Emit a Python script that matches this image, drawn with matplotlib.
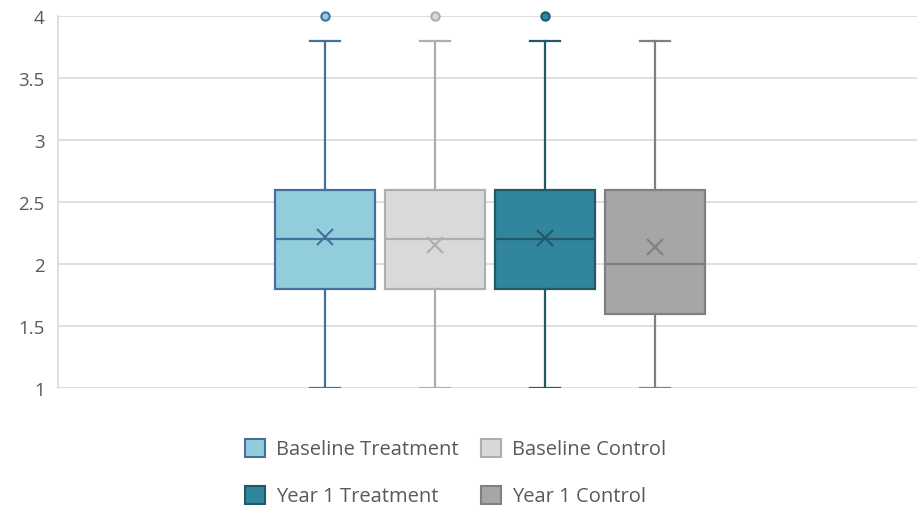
import matplotlib
matplotlib.use("Agg")
import matplotlib.pyplot as plt
from matplotlib.patches import Patch

categories = ["Baseline Treatment", "Baseline Control", "Year 1 Treatment", "Year 1 Control"]
whisker_low = [1.0, 1.0, 1.0, 1.0]
q1 = [1.8, 1.8, 1.8, 1.6]
median = [2.2, 2.2, 2.2, 2.0]
q3 = [2.6, 2.6, 2.6, 2.6]
whisker_high = [3.8, 3.8, 3.8, 3.8]
means = [2.22, 2.15, 2.21, 2.14]
outliers = [[4.0], [4.0], [4.0], []]

fill_colors = ["#92CDDC", "#D9D9D9", "#31859C", "#A6A6A6"]
edge_colors = ["#44709D", "#AEAEAE", "#215968", "#808080"]

plt.rcParams['font.family'] = ['Open Sans', 'DejaVu Sans']

fig = plt.figure(figsize=(9.17, 5.06), dpi=100)
ax = fig.add_axes([58/917, (506-389)/506, (917-58)/917, (389-17)/506])

positions = [1, 2, 3, 4]
for i in range(len(categories)):
    stats = [dict(med=median[i], q1=q1[i], q3=q3[i], whislo=whisker_low[i],
                  whishi=whisker_high[i], mean=means[i], fliers=outliers[i],
                  label=categories[i])]
    ec = edge_colors[i]
    art = ax.bxp(stats, positions=[positions[i]], widths=0.918, patch_artist=True,
                 showmeans=True, showfliers=True,
                 boxprops=dict(facecolor=fill_colors[i], edgecolor=ec, linewidth=1.6),
                 medianprops=dict(color=ec, linewidth=1.6),
                 whiskerprops=dict(color=ec, linewidth=1.6),
                 capprops=dict(color=ec, linewidth=1.6),
                 capwidths=0.27,
                 meanprops=dict(marker='x', markersize=12, markeredgecolor=ec,
                                markeredgewidth=1.5, markerfacecolor='none'),
                 flierprops=dict(marker='o', markersize=6, markerfacecolor=fill_colors[i],
                                 markeredgecolor=ec, markeredgewidth=1.5))
    for f in art['fliers']:
        f.set_clip_on(False)
        f.set_zorder(5)

ax.set_xlim(1 - (325-58)/110, 4 + (917-655)/110)
ax.set_ylim(1, 4)
ax.set_yticks([1, 1.5, 2, 2.5, 3, 3.5, 4])
ax.set_yticklabels(["1", "1.5", "2", "2.5", "3", "3.5", "4"])
ax.set_xticks([])
ax.yaxis.grid(True, color="#D9D9D9", linewidth=1.2)
ax.set_axisbelow(True)
for s in ["top", "right", "bottom"]:
    ax.spines[s].set_visible(False)
ax.spines["left"].set_color("#D9D9D9")
ax.spines["left"].set_linewidth(1.2)
ax.tick_params(axis='y', length=0, labelsize=13.5, labelcolor="#595959", pad=9.5)

order = [0, 2, 1, 3]
handles = [Patch(facecolor=fill_colors[i], edgecolor=edge_colors[i], linewidth=1.5) for i in order]
labels = [categories[i] for i in order]
leg = fig.legend(handles, labels, ncol=2, loc='center', bbox_to_anchor=(0.497, (506-473.5)/506),
                 frameon=False, fontsize=14.5, labelcolor="#595959",
                 handlelength=1.0, handleheight=1.0, handletextpad=0.55,
                 columnspacing=1.1, labelspacing=1.3, borderpad=0, borderaxespad=0)

fig.savefig("out.png", dpi=100)
